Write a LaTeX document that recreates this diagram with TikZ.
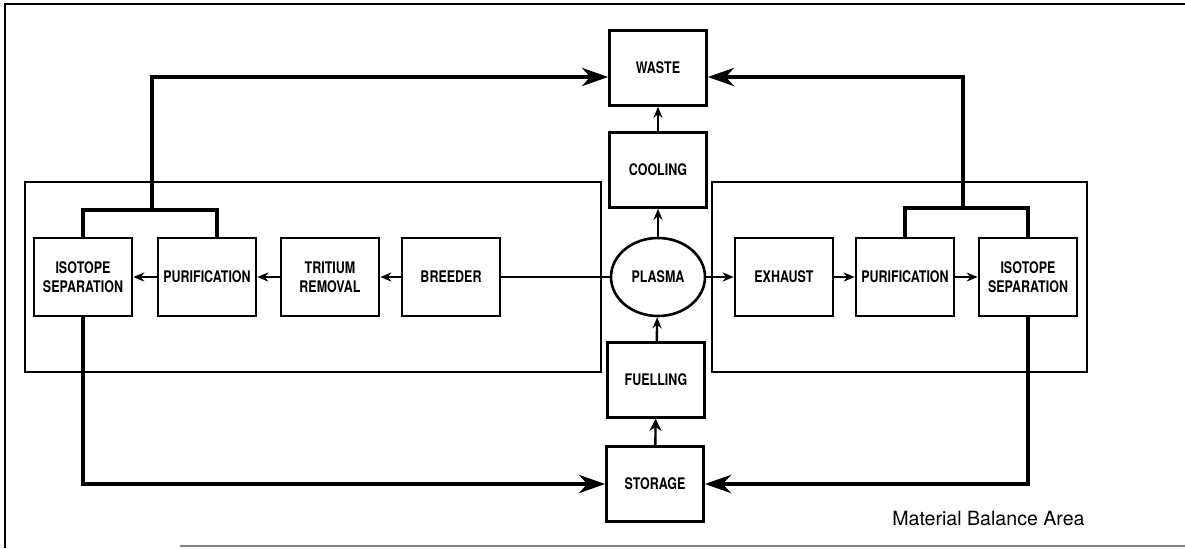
\documentclass[tikz,border=0pt]{standalone}
\usepackage{fontspec}
\newfontfamily\boxfont[FakeStretch=0.78]{TeX Gyre Heros}
\newfontfamily\areafont{TeX Gyre Heros}
\usetikzlibrary{arrows.meta,shapes.geometric}

\tikzset{
  unit/.style={draw, line width=1.3pt, minimum width=49pt, minimum height=39pt,
    inner sep=1pt, align=center, font=\boxfont\bfseries\fontsize{8}{9.5}\selectfont},
  core/.style={unit, minimum width=48.5pt, minimum height=37.5pt},
  pipe/.style={line width=2.2pt},
  link/.style={line width=1.2pt, -{Stealth[length=5.5pt,width=4.5pt]}},
  feed/.style={pipe, -{Stealth[length=13pt,width=9pt,inset=4pt]}},
  area/.style={line width=1.4pt},
}

\begin{document}
\begin{tikzpicture}[x=0.5pt,y=-0.5pt]
  \useasboundingbox (0,0) rectangle (1185,548);

  % Outer frame
  \draw[line width=1.3pt] (1185,4) -- (5,4) -- (5,548);
  \draw[gray, line width=0.7pt] (180,546) -- (1185,546);

  % Material balance areas
  \draw[area] (25,182) rectangle (601,372);
  \draw[area] (712,182) rectangle (1087,372);

  % Central column
  \node[core] (waste) at (658,68) {WASTE};
  \node[core] (cooling) at (658,170) {COOLING};
  \node[draw, ellipse, line width=1.3pt, minimum width=47pt, minimum height=39pt, inner sep=0pt,
    font=\boxfont\bfseries\fontsize{8}{9.5}\selectfont] (plasma) at (658,277) {PLASMA};
  \node[core] (fuelling) at (656,380) {FUELLING};
  \node[core] (storage) at (655,484) {STORAGE};

  % Left branch
  \node[unit] (isoL) at (83,277) {ISOTOPE\\SEPARATION};
  \node[unit] (purL) at (207,277) {PURIFICATION};
  \node[unit] (triL) at (330,277) {TRITIUM\\REMOVAL};
  \node[unit] (breeder) at (451,277) {BREEDER};

  % Right branch
  \node[unit] (exhaust) at (784,277) {EXHAUST};
  \node[unit] (purR) at (905,277) {PURIFICATION};
  \node[unit] (isoR) at (1028,277) {ISOTOPE\\SEPARATION};

  % Label
  \node[anchor=east, inner sep=0pt, font=\areafont\fontsize{9.8}{11}\selectfont] (mba) at (1085,518) {Material Balance Area};

  % Arrows between units
  \draw[line width=1.2pt] (plasma) -- (breeder);
  \draw[link] (breeder) -- (triL);
  \draw[link] (triL) -- (purL);
  \draw[link] (purL) -- (isoL);
  \draw[link] (plasma) -- (exhaust);
  \draw[link] (exhaust) -- (purR);
  \draw[link] (purR) -- (isoR);
  \draw[link] (cooling) -- (waste);
  \draw[link] (plasma) -- (cooling);
  \draw[link] (fuelling) -- (plasma);
  \draw[link, -{Stealth[length=6pt,width=6pt]}] (storage) -- (fuelling);

  % Brackets to waste
  \coordinate (brL) at (152,210);
  \coordinate (brR) at (963,208);
  \draw[pipe] (isoL.north) |- (brL) -| ([xshift=5pt]purL.north);
  \draw[feed] (brL) |- ([yshift=-4.5pt]waste.west);
  \draw[pipe] (purR.north) |- (brR) -| (isoR.north);
  \draw[feed] (brR) |- ([yshift=-4.5pt]waste.east);

  % Returns to storage
  \draw[feed] (isoL.south) |- (storage.west);
  \draw[feed] (isoR.south) |- (storage.east);
\end{tikzpicture}
\end{document}
